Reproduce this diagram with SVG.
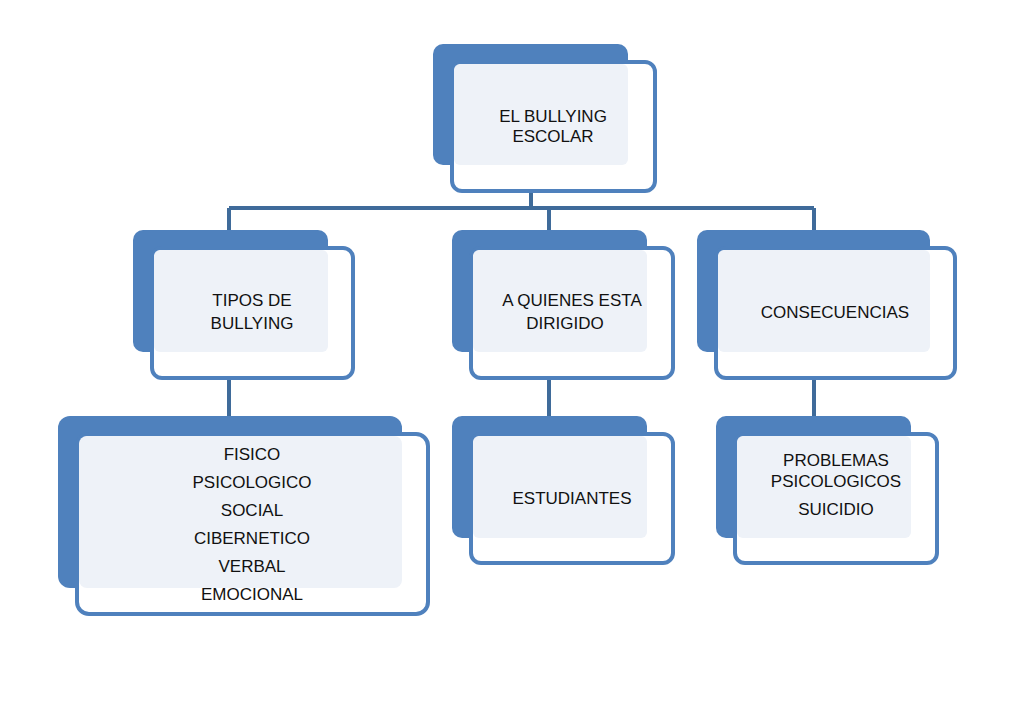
<svg xmlns="http://www.w3.org/2000/svg" width="1024" height="716" viewBox="0 0 1024 716">
<style>
.b{fill:#4f81bd}
.f{fill:#fff;stroke:#4f81bd;stroke-width:4}
.l{fill:#eef2f8}
.c{stroke:#3f6b9a;stroke-width:4;fill:none}
text{font-family:"Liberation Sans",Arial,sans-serif;font-size:17px;fill:#111;text-anchor:middle}
</style>
<rect width="1024" height="716" fill="#fff"/>
<g id="connectors">
<path class="c" d="M531 191V208M229 208H814M229 208V232M549 208V232M814 208V232M229 378V416M549 378V416M814 378V416"/>
</g>
<g id="n0"><rect class="b" x="433" y="44" width="195" height="121" rx="10"/><rect class="f" x="452" y="62" width="203" height="129" rx="10"/><rect class="l" x="454" y="64" width="174" height="101" rx="6"/><text x="553" y="122">EL BULLYING</text><text x="553" y="142">ESCOLAR</text></g>
<g id="n1"><rect class="b" x="133" y="230" width="195" height="122" rx="10"/><rect class="f" x="152" y="248" width="201" height="130" rx="10"/><rect class="l" x="154" y="250" width="174" height="102" rx="6"/><text x="252" y="306">TIPOS DE</text><text x="252" y="329">BULLYING</text></g>
<g id="n2"><rect class="b" x="452" y="230" width="195" height="122" rx="10"/><rect class="f" x="471" y="248" width="202" height="130" rx="10"/><rect class="l" x="473" y="250" width="174" height="102" rx="6"/><text x="572" y="306">A QUIENES ESTA</text><text x="565" y="329">DIRIGIDO</text></g>
<g id="n3"><rect class="b" x="697" y="230" width="233" height="122" rx="10"/><rect class="f" x="716" y="248" width="239" height="130" rx="10"/><rect class="l" x="718" y="250" width="212" height="102" rx="6"/><text x="835" y="318">CONSECUENCIAS</text></g>
<g id="n4"><rect class="b" x="58" y="416" width="344" height="172" rx="12"/><rect class="f" x="77" y="434" width="351" height="180" rx="12"/><rect class="l" x="79" y="436" width="323" height="152" rx="8"/><text x="252" y="460">FISICO</text><text x="252" y="488">PSICOLOGICO</text><text x="252" y="516">SOCIAL</text><text x="252" y="544">CIBERNETICO</text><text x="252" y="572">VERBAL</text><text x="252" y="600">EMOCIONAL</text></g>
<g id="n5"><rect class="b" x="452" y="416" width="195" height="122" rx="10"/><rect class="f" x="471" y="434" width="202" height="129" rx="10"/><rect class="l" x="473" y="436" width="174" height="102" rx="6"/><text x="572" y="504">ESTUDIANTES</text></g>
<g id="n6"><rect class="b" x="716" y="416" width="195" height="122" rx="10"/><rect class="f" x="735" y="434" width="202" height="129" rx="10"/><rect class="l" x="737" y="436" width="174" height="102" rx="6"/><text x="836" y="466">PROBLEMAS</text><text x="836" y="487">PSICOLOGICOS</text><text x="836" y="515">SUICIDIO</text></g>
</svg>
